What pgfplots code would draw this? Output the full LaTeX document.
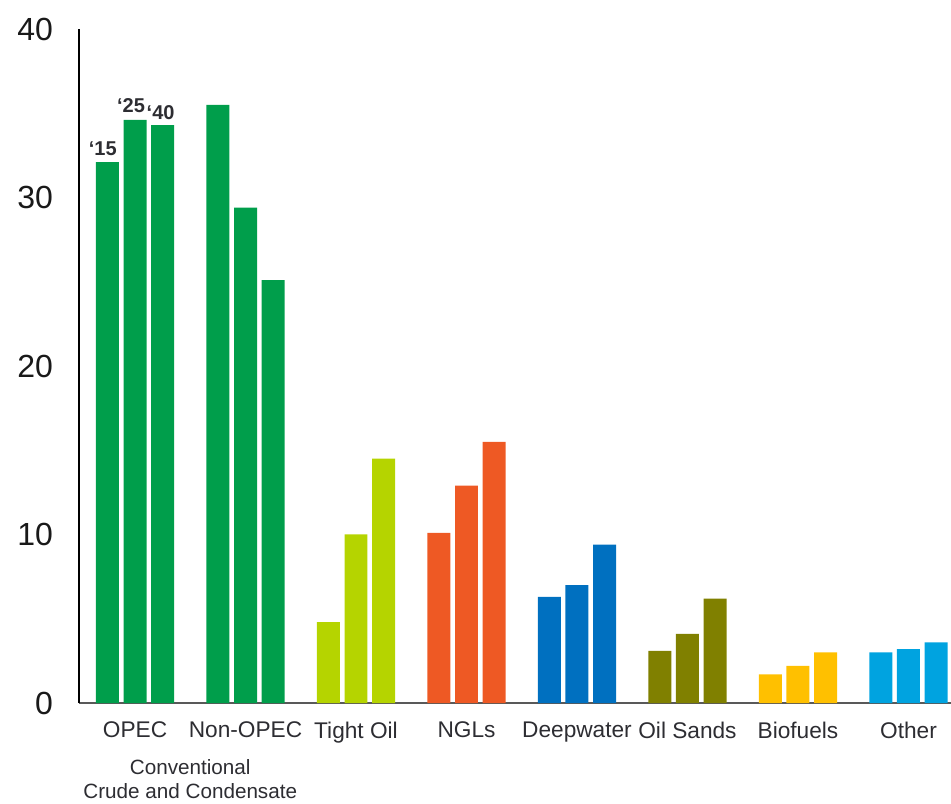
\documentclass[border=0pt]{standalone}
\usepackage{fontspec}
\setmainfont{Liberation Sans}
\usepackage{pgfplots}
\pgfplotsset{compat=1.18}
\definecolor{cgreen}{RGB}{0,158,75}
\definecolor{clime}{RGB}{181,212,0}
\definecolor{corange}{RGB}{238,89,36}
\definecolor{cblue}{RGB}{0,112,192}
\definecolor{colive}{RGB}{128,128,0}
\definecolor{cyellow}{RGB}{255,192,0}
\definecolor{csky}{RGB}{0,163,224}
\definecolor{ctext}{RGB}{45,45,50}
\pgfplotsset{mybar/.style={ybar, bar width=0.208, bar shift=0pt, draw=none}}
\begin{document}
\begin{tikzpicture}
\begin{axis}[
  scale only axis,
  width=654pt, height=505.5pt,
  xmin=-0.507, xmax=7.385, ymin=0, ymax=40,
  axis lines*=left,
  x axis line style={-, draw=black!65, line width=1pt},
  y axis line style={-, draw=black, line width=0.9pt},
  ytick={0,10,20,30,40},
  xtick={0,...,7},
  xticklabels={OPEC,Non-OPEC,Tight Oil,NGLs,Deepwater,Oil Sands,Biofuels,Other},
  major tick length=0pt,
  /pgf/number format/assume math mode=true,
  yticklabel style={font=\fontsize{24}{28}\selectfont, xshift=-16pt, text=black!90},
  xticklabel style={font=\fontsize{17}{20}\selectfont, yshift=-10.5pt, text=ctext},
  clip=false,
]
% OPEC
\addplot[mybar, fill=cgreen] coordinates {(-0.25,32.1) (0,34.6) (0.25,34.3)};
% Non-OPEC
\addplot[mybar, fill=cgreen] coordinates {(0.75,35.5) (1,29.4) (1.25,25.1)};
% Tight Oil
\addplot[mybar, fill=clime] coordinates {(1.75,4.8) (2,10.0) (2.25,14.5)};
% NGLs
\addplot[mybar, fill=corange] coordinates {(2.75,10.1) (3,12.9) (3.25,15.5)};
% Deepwater
\addplot[mybar, fill=cblue] coordinates {(3.75,6.3) (4,7.0) (4.25,9.4)};
% Oil Sands
\addplot[mybar, fill=colive] coordinates {(4.75,3.1) (5,4.1) (5.25,6.2)};
% Biofuels
\addplot[mybar, fill=cyellow] coordinates {(5.75,1.7) (6,2.2) (6.25,3.0)};
% Other
\addplot[mybar, fill=csky] coordinates {(6.75,3.0) (7,3.2) (7.25,3.6)};

\node[anchor=south, font=\bfseries\fontsize{15}{18}\selectfont, xshift=-3.5pt, inner sep=4.5pt, text=ctext] at (axis cs:-0.25,32.1) {‘15};
\node[anchor=south, font=\bfseries\fontsize{15}{18}\selectfont, xshift=-3pt, inner sep=5.5pt, text=ctext] at (axis cs:0,34.6) {‘25};
\node[anchor=south, font=\bfseries\fontsize{15}{18}\selectfont, xshift=-1.5pt, inner sep=3.5pt, text=ctext] at (axis cs:0.25,34.3) {‘40};

\node[anchor=north, align=center, font=\fontsize{15.5}{18}\selectfont, yshift=-38.8pt, text=ctext] at (axis cs:0.5,0) {Conventional\\Crude and Condensate};

\coordinate (bl) at (rel axis cs:0,0);
\coordinate (tr) at (rel axis cs:1,1);
\end{axis}
\pgfresetboundingbox
\path ([shift={(-59.25pt,-75.75pt)}]bl) rectangle ([shift={(0pt,21.75pt)}]tr);
\end{tikzpicture}
\end{document}
